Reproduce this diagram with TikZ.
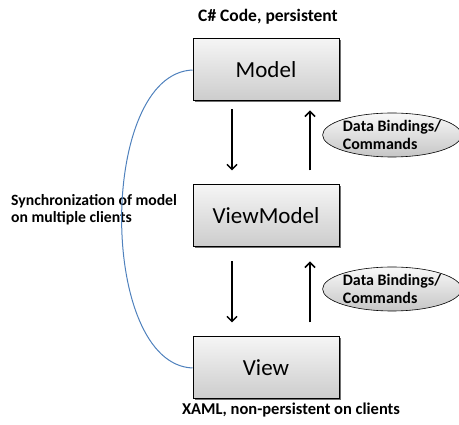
\documentclass[tikz,border=0pt]{standalone}
\usepackage{fontspec}
\setmainfont{Carlito}
\usetikzlibrary{shapes.geometric,arrows.meta,shadows}
\definecolor{syncblue}{RGB}{79,129,189}
\tikzset{
  layerbox/.style={draw=black, line width=1pt, top color=gray!8, bottom color=gray!40,
    minimum width=146pt, minimum height=62pt, font=\fontsize{23}{26}\selectfont,
    drop shadow={shadow xshift=1.5pt, shadow yshift=-1.5pt, fill=black!70, opacity=0.8}},
  bindell/.style={ellipse, draw=black, line width=0.6pt, top color=gray!5, bottom color=gray!45,
    minimum width=125pt, minimum height=44pt, inner sep=0pt, align=left,
    font=\bfseries\fontsize{16}{18}\selectfont},
  flow/.style={line width=1.5pt, -{Straight Barb[length=5pt,width=10pt]}},
  caption/.style={font=\bfseries\fontsize{16.5}{20}\selectfont},
}
\begin{document}
\begin{tikzpicture}[x=1pt,y=-1pt]
\useasboundingbox (0,0) rectangle (459,425);
\node[layerbox] (model) at (266,70) {Model};
\node[layerbox] (vm) at (266,216) {ViewModel};
\node[layerbox] (view) at (266,368) {View};
\node[caption, font=\bfseries\fontsize{17.5}{20}\selectfont] (cap1) at (268,17) {C\# Code, persistent};
\node[caption] (cap2) at (291,410) {XAML, non-persistent on clients};
\node[bindell] (e1) at (392,135) {Data Bindings/\\Commands};
\node[bindell] (e2) at (392,289) {Data Bindings/\\Commands};
\node[font=\bfseries\fontsize{15.7}{17}\selectfont, align=left, anchor=west, inner sep=0pt] (sync) at (11,210) {Synchronization of model\\on multiple clients};
\draw[syncblue, line width=1pt] (model.west) .. controls (98,74) and (98,364) .. (view.west);
\draw[flow, shorten <=8pt, shorten >=14pt] ([xshift=-34pt]model.south) -- ([xshift=-34pt]vm.north);
\draw[flow, shorten <=14pt, shorten >=9pt] ([xshift=44pt]vm.north) -- ([xshift=44pt]model.south);
\draw[flow, shorten <=14pt, shorten >=14pt] ([xshift=-34pt]vm.south) -- ([xshift=-34pt]view.north);
\draw[flow, shorten <=14pt, shorten >=14pt] ([xshift=44pt]view.north) -- ([xshift=44pt]vm.south);
\end{tikzpicture}
\end{document}
